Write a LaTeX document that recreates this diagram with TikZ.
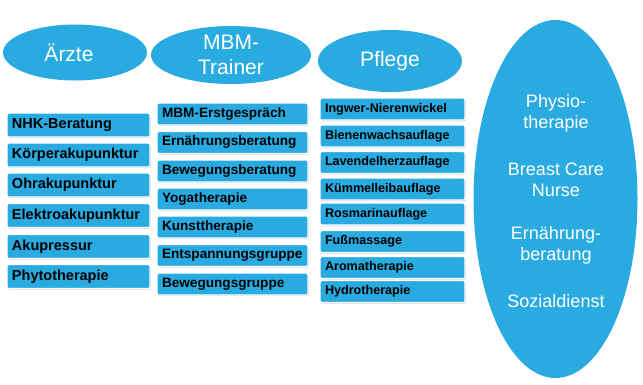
\documentclass[tikz,border=0pt]{standalone}
\usepackage{fontspec}
\setmainfont{Liberation Sans}
\usetikzlibrary{shapes.geometric,shadows}
\definecolor{mblue}{HTML}{29ABE2}
\tikzset{
  head/.style={ellipse, fill=mblue, inner sep=0pt, text=white, font=\fontsize{21}{25}\selectfont, align=center},
  bigtxt/.style={text=white, font=\fontsize{18}{21}\selectfont, align=center, inner sep=0pt},
  item/.style={rectangle, rounded corners=2pt, fill=mblue, draw=white, line width=1.2pt,
    drop shadow={shadow xshift=0.8pt, shadow yshift=-1.2pt, opacity=0.35},
    inner xsep=5pt, inner ysep=0pt, align=left, text=black},
  colA/.style={item, text width=133pt, minimum height=24pt, font=\bfseries\fontsize{14.5}{16}\selectfont},
  colB/.style={item, text width=141pt, minimum height=22pt, font=\bfseries\fontsize{13.6}{15}\selectfont},
  colC/.style={item, text width=135pt, minimum height=22pt, font=\bfseries\fontsize{12.6}{15}\selectfont},
}
\begin{document}
\begin{tikzpicture}[x=1pt,y=-1pt]
\useasboundingbox[fill=white] (0,0) rectangle (643,384);
% headers
\node[head, minimum width=144pt, minimum height=56pt] (aerzte) at (75,52.5) {\hspace*{-12pt}Ärzte};
\node[head, minimum width=160pt, minimum height=58pt] (mbm) at (231,55) {MBM-\\Trainer};
\node[head, minimum width=144pt, minimum height=62pt] (pflege) at (390,61) {Pflege};
\node[ellipse, fill=mblue, inner sep=0pt, minimum width=164pt, minimum height=358pt] (big) at (555.5,199) {};
\node[bigtxt] (physio) at (556,113.3) {Physio-\\therapie};
\node[bigtxt] (bcn) at (556,179.3) {Breast Care\\Nurse};
\node[bigtxt] (ern) at (556,245.8) {Ernährung-\\beratung};
\node[bigtxt] (sozial) at (556,300.8) {Sozialdienst};
% column A
\node[colA] (a1) at (78.5,125) {NHK-Beratung};
\node[colA] (a2) at (78.5,155) {Körperakupunktur};
\node[colA] (a3) at (78.5,185) {Ohrakupunktur};
\node[colA] (a4) at (78.5,215.5) {Elektroakupunktur};
\node[colA] (a5) at (78.5,246.5) {Akupressur};
\node[colA] (a6) at (78.5,276.5) {Phytotherapie};
% column B
\node[colB] (b1) at (232.5,114) {MBM-Erstgespräch};
\node[colB] (b2) at (232.5,142.5) {Ernährungsberatung};
\node[colB] (b3) at (232.5,171) {Bewegungsberatung};
\node[colB] (b4) at (232.5,199) {Yogatherapie};
\node[colB] (b5) at (232.5,227) {Kunsttherapie};
\node[colB] (b6) at (232.5,255.5) {Entspannungsgruppe};
\node[colB] (b7) at (232.5,284) {Bewegungsgruppe};
% column C
\node[colC] (c1) at (392.5,109) {Ingwer-Nierenwickel};
\node[colC] (c2) at (392.5,136) {Bienenwachsauflage};
\node[colC] (c3) at (392.5,162.5) {Lavendelherzauflage};
\node[colC] (c4) at (392.5,189) {Kümmelleibauflage};
\node[colC] (c5) at (392.5,214) {Rosmarinauflage};
\node[colC] (c6) at (392.5,241.5) {Fußmassage};
\node[colC] (c7) at (392.5,267.5) {Aromatherapie};
\node[colC] (c8) at (392.5,291.5) {Hydrotherapie};
\end{tikzpicture}
\end{document}
